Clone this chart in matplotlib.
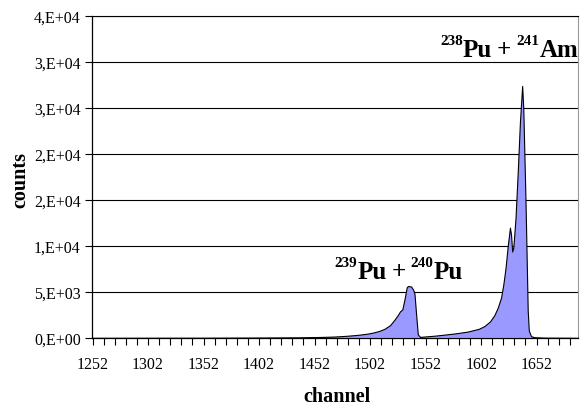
import matplotlib
matplotlib.use("Agg")
import matplotlib.pyplot as plt
from matplotlib.ticker import FixedLocator, MultipleLocator
from matplotlib.transforms import IdentityTransform

# spectrum (channel, counts)
channels = [1252, 1300, 1350, 1400, 1440, 1460, 1470, 1480, 1490, 1495,
            1500, 1505, 1510, 1515, 1520, 1524, 1527, 1529, 1531, 1533,
            1535, 1536, 1539, 1541, 1542, 1544, 1545, 1547, 1550, 1560,
            1570, 1580, 1590, 1600, 1605, 1610, 1614, 1617, 1620, 1622,
            1624, 1626, 1628, 1629, 1630, 1631, 1633, 1635, 1637, 1639,
            1640, 1642, 1644, 1645, 1647, 1650, 1660, 1691]
counts = [10, 15, 20, 40, 70, 120, 160, 230, 330, 400,
          480, 600, 760, 1000, 1400, 2000, 2500, 2900, 3100, 4200,
          5500, 5650, 5600, 5200, 4800, 1800, 400, 120, 150, 250,
          380, 520, 700, 1000, 1300, 1800, 2500, 3300, 4400, 5800,
          7600, 10000, 12000, 11200, 9400, 9800, 13000, 18000, 23500, 27400,
          25000, 15000, 3000, 800, 200, 80, 30, 10]

x_labels = [1252, 1302, 1352, 1402, 1452, 1502, 1552, 1602, 1652]
y_ticks = [0, 5000, 10000, 15000, 20000, 25000, 30000, 35000]
y_labels = ["0,E+00", "5,E+03", "1,E+04", "2,E+04", "2,E+04",
            "3,E+04", "3,E+04", "4,E+04"]

# peak labels: (mass number, element) pairs
am_label = [("238", "Pu"), ("241", "Am")]
pu_label = [("239", "Pu"), ("240", "Pu")]

plt.rcParams["font.family"] = ["Liberation Serif", "DejaVu Serif"]

fig = plt.figure(figsize=(5.81, 4.10), dpi=100)
ax = fig.add_axes([92 / 581, 1 - 339 / 410, 486 / 581, 322 / 410])

ax.fill_between(channels, counts, 0, facecolor="#9999ff",
                edgecolor="black", linewidth=0.8, zorder=3)

ax.set_xlim(1251.5, 1689.3)
ax.set_ylim(0, 35000)

ax.xaxis.set_major_locator(FixedLocator(x_labels))
ax.xaxis.set_minor_locator(MultipleLocator(10, offset=2))
ax.set_xticklabels([str(v) for v in x_labels])
ax.set_yticks(y_ticks)
ax.set_yticklabels(y_labels)

ax.tick_params(axis="x", which="both", direction="out", length=5,
               width=0.8, pad=8, labelsize=11.5)
ax.tick_params(axis="y", direction="out", length=5, width=0.8,
               pad=3, labelsize=11.5)

ax.grid(axis="y", color="black", linewidth=0.8, zorder=1)
ax.set_axisbelow(True)
for s in ("left", "bottom"):
    ax.spines[s].set_color("black")
    ax.spines[s].set_linewidth(0.9)
ax.spines["top"].set_color("black")
ax.spines["top"].set_linewidth(0.8)
ax.spines["right"].set_color("#999999")
ax.spines["right"].set_linewidth(0.8)


def isotope_label(x, y, pairs, big=18, small=11, rise=12):
    # draws "^A X + ^B Y" piece by piece, starting at data (x, y)
    r = fig.canvas.get_renderer()
    px, py = ax.transData.transform((x, y))
    pieces = []
    for i, (mass, elem) in enumerate(pairs):
        if i:
            pieces.append(("+", big, 0, 5))
        pieces.append((mass, small, rise, 0))
        pieces.append((elem, big, 0, 5))
    for s, size, dy, gap in pieces:
        t = fig.text(px, py + dy, s, fontsize=size, fontweight="bold",
                     ha="left", va="baseline", transform=IdentityTransform())
        px += t.get_window_extent(r).width + gap


isotope_label(1565, 30700, am_label)
isotope_label(1470, 6550, pu_label)

fig.text(337 / 581, 1 - 397 / 410, "channel", ha="center", va="center",
         fontsize=14.5, fontweight="bold")
fig.text(20 / 581, 1 - 180 / 410, "counts", ha="center", va="center",
         rotation=90, fontsize=14.5, fontweight="bold")

fig.savefig("out.png", dpi=100)
